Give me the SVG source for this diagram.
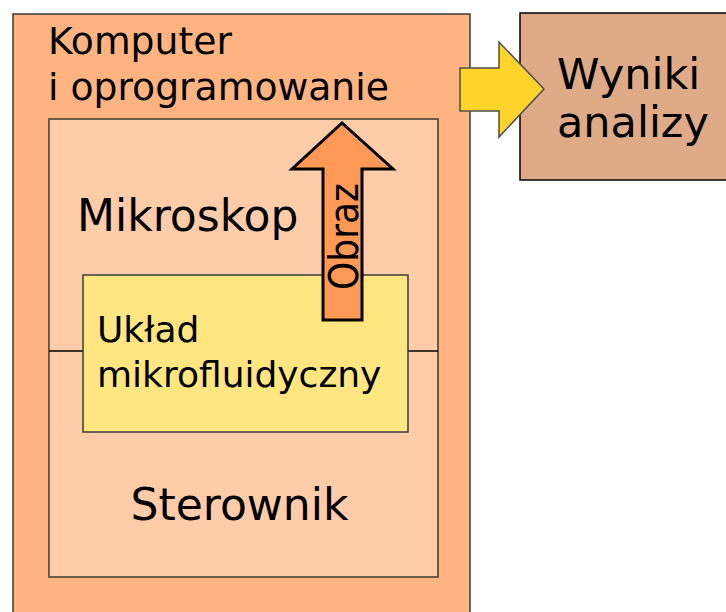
<svg xmlns="http://www.w3.org/2000/svg" width="726" height="612" viewBox="0 0 726 612">
  <style>
    text { font-family: "DejaVu Sans", "Liberation Sans", sans-serif; fill: #000; }
    .box { stroke: #3a3a3a; stroke-width: 1.5; }
  </style>
  <rect width="726" height="612" fill="#fff"/>

  <g id="komputer">
    <rect class="box" x="13" y="14" width="457" height="612" fill="#ffb380"/>
    <text x="48" y="54" font-size="37.7">Komputer</text>
    <text x="48" y="100" font-size="37.7">i oprogramowanie</text>
  </g>

  <g id="mikroskop-sterownik">
    <rect class="box" x="49" y="119" width="389" height="458" fill="#ffccaa"/>
    <line x1="49" y1="351" x2="438" y2="351" stroke="#000" stroke-width="1.5"/>
    <text x="77" y="231" font-size="44">Mikroskop</text>
    <text x="239.5" y="520" font-size="44" text-anchor="middle">Sterownik</text>
  </g>

  <g id="uklad">
    <rect class="box" x="83" y="275" width="325" height="157" fill="#ffe680"/>
    <text x="97" y="342" font-size="36">Układ</text>
    <text x="97" y="387" font-size="36">mikrofluidyczny</text>
  </g>

  <g id="wyniki">
    <rect x="520" y="13" width="220" height="167" fill="#deaa87" stroke="#000" stroke-width="1.5"/>
    <text x="557" y="89" font-size="43">Wyniki</text>
    <text x="557" y="137" font-size="43">analizy</text>
  </g>

  <g id="connectors">
    <g id="obraz">
      <path d="M323,320 L323,169 L292,169 L342,123 L393,169 L362,169 L362,320 Z" fill="#ff9955" stroke="#000" stroke-width="3" stroke-linejoin="miter"/>
      <text transform="translate(358,236.5) rotate(-90)" font-size="40" text-anchor="middle" textLength="107" lengthAdjust="spacingAndGlyphs">Obraz</text>
    </g>
    <path id="wynik-arrow" d="M460,68 L499,68 L499,42 L544,89 L499,137 L499,111 L460,111 Z" fill="#ffd42a" stroke="#4d4d4d" stroke-width="1.5"/>
  </g>
</svg>
